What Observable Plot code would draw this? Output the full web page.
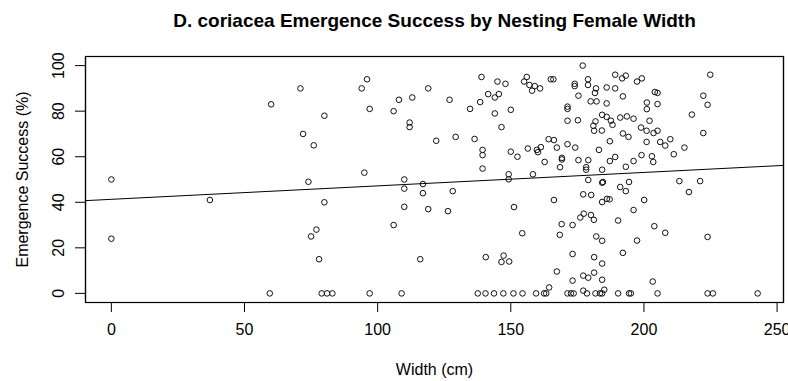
<!DOCTYPE html>
<html><head><meta charset="utf-8">
<script src="https://cdn.jsdelivr.net/npm/d3@7"></script>
<script src="https://cdn.jsdelivr.net/npm/@observablehq/plot@0.6"></script>
<style>
html,body{margin:0;padding:0;background:#fff;}
svg{display:block;}
</style></head><body><div id="chart"></div>
<script>
const title = "D. coriacea Emergence Success by Nesting Female Width";
const xLabel = "Width (cm)";
const yLabel = "Emergence Success (%)";
const xTicks = [0, 50, 100, 150, 200, 250];
const yTicks = [0, 20, 40, 60, 80, 100];

const widths = [
  0, 0, 37, 59.5,
  60, 71, 96, 94, 119, 108, 113, 80, 97, 106, 112, 112, 72, 76, 122, 95, 74, 110,
  110, 117, 117, 80, 110, 119, 106, 77, 75, 78, 116, 79, 81, 83, 97, 109,
  177, 139, 145, 148, 156, 155, 157, 159, 161, 158, 165, 166, 174, 174, 179, 179, 182, 186,
  127, 141.5, 145.5, 144, 138.5, 134.7, 144, 150, 146.5, 175.4, 181.6, 180, 182.2, 186,
  171.3, 171.3, 171.3, 175.2, 184.3, 186, 181.8, 181, 181.3, 184.2, 187.2, 129.3, 136.4,
  139.4, 139.4, 139.4, 150, 152.5, 156.4, 159.8, 161.3, 160.2, 164.2, 166.2, 167.3, 171.3,
  174.2, 183.1, 162.7, 169.2, 169.2, 168.5, 175.4, 179.1, 178.3, 178.3, 184.3, 187.2,
  149.2, 149.2, 158.3,
  179.1, 184.3, 184.6, 128.2, 126.4, 151.2, 166.2, 177.2, 180.2, 184.3, 186.1, 187.1,
  176.1, 177.4, 180.1, 181.2, 169.1, 173.2, 154.3, 168.4, 182.1, 184.3, 173.2, 181.3,
  184.3, 140.6, 147.3, 146.5, 149.4, 167.3, 173.2, 177.2, 179.1, 181.3, 184.3, 164.4,
  177.2, 185.1,
  137.6, 140.5, 143.7, 147.2, 151, 154.4, 159.5, 162.5, 163.3, 171.3, 172.6, 173.6,
  178.6, 181.8, 183.5, 184.3,
  189.2, 191.8, 193.2, 197.4, 199.2, 224.9, 189.2, 192.1, 204.1, 205.1, 222.3, 223.9,
  201.1, 201.1, 205.1, 218, 187.6, 188.2, 191.1, 193.6, 196.1, 202.1, 192.1, 194.2,
  198.9, 201, 203.6, 205.1, 222.3, 201, 206.1, 208, 209.9, 211.2, 215.2, 189.2, 193.2,
  196.1, 199.1, 203, 203.5,
  191.1, 193.2, 194.4, 213.3, 221.1, 216.9, 200.1, 196.1, 190.3, 203.9, 208, 223.9,
  197.4, 192.1, 203.3,
  190.3, 194.4, 195.1, 205.1, 223.9, 225.9, 242.7
];
const success = [
  50, 24, 41, 0,
  83, 90, 94, 90, 90, 85, 86, 78, 81, 80, 75, 73, 70, 65, 67, 53, 49, 50,
  46, 48, 44, 40, 38, 37, 30, 28, 25, 15, 15, 0, 0, 0, 0, 0,
  100, 95, 93, 92, 95, 93, 91.5, 91, 90, 89, 94, 94, 92, 91, 94, 91.5, 90, 90.4,
  85, 87.5, 87.5, 86, 84, 81, 79, 80.6, 73, 86.8, 88, 84.3, 84.3, 83.4,
  82, 81, 75.8, 76, 78.4, 77.5, 75.5, 73.6, 71.4, 71.5, 66.8, 68.7, 67.8,
  63, 60.7, 54.8, 62.2, 60, 63.6, 63, 64.2, 62, 67.7, 67.3, 64, 65.5,
  64, 63, 57.7, 59.5, 58.8, 55.4, 58.5, 58.5, 55.4, 54.3, 54.3, 58.1,
  52.3, 50.1, 52.3,
  49.8, 48.6, 48.9, 44.9, 36.1, 37.9, 41, 43.5, 43.2, 40.1, 41.5, 41.3,
  33.3, 35, 34.4, 32.3, 30.4, 30, 26.4, 25.7, 25, 23.1, 17.3, 15.9,
  13.1, 15.9, 16.6, 13.8, 14, 9.6, 5.6, 7.8, 6.9, 9.1, 6, 2.6,
  1.2, 1.6,
  0, 0, 0, 0, 0, 0, 0, 0, 0, 0, 0, 0,
  0, 0, 0, 0,
  96, 94.4, 95.6, 93, 94.4, 96, 90, 86.5, 88.4, 88, 86.8, 82.8,
  83.8, 80.9, 83.1, 78.5, 75.8, 74, 77.2, 77.7, 76.7, 75.8, 70.2, 68.7,
  72.8, 71.4, 70.4, 71.4, 70.4, 66.5, 66.5, 64.9, 67.7, 61.1, 64, 59.9, 55.6,
  58.1, 60.7, 60.2, 57.7,
  46.7, 44.9, 48.9, 49.3, 49.3, 44.5, 41, 36.6, 32, 29.5, 26.6, 24.8,
  23.2, 17.8, 5.2,
  0, 0, 0, 0, 0, 0, 0
];

// least-squares line (abline of lm)
const fitIntercept = 41.3;
const fitSlope = 0.059;

const points = widths.map((w, i) => ({width: w, success: success[i]}));

// R-style 4% padding of data range
const pad = ([a, b]) => [a - 0.04 * (b - a), b + 0.04 * (b - a)];
const xDom = pad(d3.extent(widths));
const yDom = pad(d3.extent(success));
const fitLine = xDom.map(x => ({x, y: fitIntercept + fitSlope * x}));
const box = [
  {x1: xDom[0], x2: xDom[1], y1: yDom[0], y2: yDom[0]},
  {x1: xDom[0], x2: xDom[1], y1: yDom[1], y2: yDom[1]},
  {x1: xDom[0], x2: xDom[0], y1: yDom[0], y2: yDom[1]},
  {x1: xDom[1], x2: xDom[1], y1: yDom[0], y2: yDom[1]}
];

const font = "'Liberation Sans', Arial, sans-serif";
const plot = Plot.plot({
  width: 788, height: 381,
  marginLeft: 85, marginRight: 5, marginTop: 56, marginBottom: 79,
  style: {fontFamily: font, fontSize: "16px", color: "#000", background: "#fff"},
  x: {domain: xDom, label: null},
  y: {domain: yDom, label: null},
  marks: [
    Plot.frame({stroke: "black", strokeWidth: 1.2}),
    Plot.link(box, {x1: "x1", x2: "x2", y1: "y1", y2: "y2", stroke: "black", strokeWidth: 1.2}),
    Plot.axisX({ticks: xTicks, tickSize: 10, tickPadding: 11, label: null, tickFormat: d => String(d), fontSize: 16}),
    Plot.axisY({ticks: yTicks, tickSize: 10, tickRotate: -90, tickPadding: 12, label: null, tickFormat: d => String(d), fontSize: 16}),
    Plot.dot(points, {x: "width", y: "success", r: 2.8, stroke: "#111", strokeWidth: 1, fill: "none"}),
    Plot.line(fitLine, {x: "x", y: "y", stroke: "#000", strokeWidth: 1}),
    Plot.text([title], {text: d => d, frameAnchor: "top", dy: -36, fontWeight: "bold", fontSize: 19, lineAnchor: "middle", textAnchor: "middle"}),
    Plot.text([xLabel], {text: d => d, frameAnchor: "bottom", dy: 67, fontSize: 16, lineAnchor: "middle", textAnchor: "middle"}),
    Plot.text([yLabel], {text: d => d, frameAnchor: "left", dx: -63, rotate: -90, fontSize: 16, lineAnchor: "middle", textAnchor: "middle"})
  ]
});
document.getElementById("chart").appendChild(plot);
</script>
</body></html>
